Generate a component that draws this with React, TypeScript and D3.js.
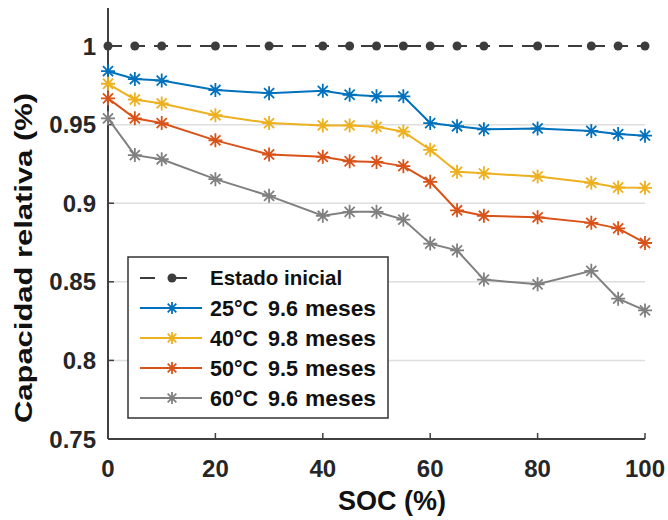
import React from 'react';
import * as d3 from 'd3';

// SOC en % (eje x)
const soc = [0, 5, 10, 20, 30, 40, 45, 50, 55, 60, 65, 70, 80, 90, 95, 100];

// capacidad relativa por temperatura
const estadoInicial = [1, 1, 1, 1, 1, 1, 1, 1, 1, 1, 1, 1, 1, 1, 1, 1];
const cap25 = [0.984, 0.979, 0.978, 0.972, 0.970, 0.9715, 0.969, 0.968, 0.968, 0.951, 0.949, 0.947, 0.9476, 0.946, 0.944, 0.943];
const cap40 = [0.976, 0.966, 0.9635, 0.956, 0.951, 0.9495, 0.9495, 0.9486, 0.9455, 0.934, 0.920, 0.919, 0.917, 0.913, 0.910, 0.9098];
const cap50 = [0.9667, 0.954, 0.951, 0.940, 0.931, 0.9295, 0.9267, 0.9263, 0.9236, 0.9136, 0.8955, 0.892, 0.891, 0.8875, 0.884, 0.8747];
const cap60 = [0.954, 0.9306, 0.928, 0.9153, 0.9047, 0.892, 0.8945, 0.8945, 0.8896, 0.8743, 0.870, 0.8514, 0.8484, 0.857, 0.8393, 0.8318];

const legendTemps = ['25°C', '40°C', '50°C', '60°C'];
const legendMonths = ['9.6', '9.8', '9.5', '9.6'];
const seriesColors = ['#0072BD', '#EDB120', '#D95319', '#808080'];

const xTicks = [0, 20, 40, 60, 80, 100];
const yTicks = [0.75, 0.8, 0.85, 0.9, 0.95, 1];
const yTickLabels = ['0.75', '0.8', '0.85', '0.9', '0.95', '1'];
const yGrid = [0.8, 0.85, 0.9, 0.95];

const FONT = 'Liberation Sans, Arial, sans-serif';
const AXIS = '#404040';

const asterisk = (r: number) => {
  const d = r * 0.72;
  return `M${-r},0H${r}M0,${-r}V${r}M${-d},${-d}L${d},${d}M${-d},${d}L${d},${-d}`;
};

export default function App() {
  const width = 668;
  const height = 520;

  const x = d3.scaleLinear().domain([0, 100]).range([108, 645]);
  const y = d3.scaleLinear().domain([0.75, 1.0242]).range([439, 8]);

  const line = d3.line<number>()
    .x((_, i) => x(soc[i]))
    .y(v => y(v));

  const series = [cap25, cap40, cap50, cap60];

  // legend box
  const lx = 128, ly = 257, lw = 260, lh = 161;
  const rowY = (i: number) => 278 + i * 30;

  return (
    <svg width={width} height={height} style={{ position: 'absolute', left: 0, top: 0, background: '#fff' }}
      fontFamily={FONT}>
      <rect width={width} height={height} fill="#fff" />

      {/* rejilla */}
      {yGrid.map(v => (
        <line key={v} x1={x(0)} x2={x(100)} y1={y(v)} y2={y(v)} stroke="#dedede" strokeWidth={1.5} />
      ))}

      {/* ejes */}
      <line x1={x(0)} x2={x(0)} y1={y.range()[1]} y2={y(0.75)} stroke={AXIS} strokeWidth={2} />
      <line x1={x(0)} x2={x(100)} y1={y(0.75)} y2={y(0.75)} stroke={AXIS} strokeWidth={2} />
      {xTicks.map(t => (
        <line key={t} x1={x(t)} x2={x(t)} y1={y(0.75)} y2={y(0.75) - 6} stroke={AXIS} strokeWidth={1.5} />
      ))}
      {yTicks.map(t => (
        <line key={t} x1={x(0)} x2={x(0) + 6} y1={y(t)} y2={y(t)} stroke={AXIS} strokeWidth={1.5} />
      ))}

      {/* etiquetas de ticks */}
      {xTicks.map(t => (
        <text key={t} x={x(t)} y={477} textAnchor="middle" fontSize={24} fontWeight="bold" fill="#262626">{t}</text>
      ))}
      {yTicks.map((t, i) => (
        <text key={t} x={96} y={y(t)} dy="0.36em" textAnchor="end" fontSize={24} fontWeight="bold" fill="#262626">{yTickLabels[i]}</text>
      ))}

      {/* titulos */}
      <text x={392} y={510} textAnchor="middle" fontSize={27} fontWeight="bold" fill="#111">SOC (%)</text>
      <text transform={`translate(32,258) rotate(-90)`} textAnchor="middle" fontSize={24} fontWeight="bold" fill="#111"
        textLength={330} lengthAdjust="spacingAndGlyphs">Capacidad relativa (%)</text>

      {/* estado inicial */}
      <path d={line(estadoInicial) || ''} fill="none" stroke="#3c3c3c" strokeWidth={2} strokeDasharray="14 9" />
      {estadoInicial.map((v, i) => (
        <circle key={i} cx={x(soc[i])} cy={y(v)} r={4.5} fill="#3c3c3c" />
      ))}

      {/* series */}
      {series.map((s, k) => (
        <g key={k}>
          <path d={line(s) || ''} fill="none" stroke={seriesColors[k]} strokeWidth={2} />
          {s.map((v, i) => (
            <path key={i} d={asterisk(7)} transform={`translate(${x(soc[i])},${y(v)})`}
              fill="none" stroke={seriesColors[k]} strokeWidth={1.8} />
          ))}
        </g>
      ))}

      {/* leyenda */}
      <rect x={lx} y={ly} width={lw} height={lh} fill="#fff" stroke="#333" strokeWidth={1.5} />
      <line x1={140} x2={202} y1={rowY(0)} y2={rowY(0)} stroke="#3c3c3c" strokeWidth={2} strokeDasharray="15 17" />
      <circle cx={172} cy={rowY(0)} r={4.5} fill="#3c3c3c" />
      <text x={210} y={rowY(0)} dy="0.36em" fontSize={20.5} fontWeight="bold" fill="#111">Estado inicial</text>
      {legendTemps.map((t, i) => (
        <g key={t + i}>
          <line x1={140} x2={202} y1={rowY(i + 1)} y2={rowY(i + 1)} stroke={seriesColors[i]} strokeWidth={2} />
          <path d={asterisk(6)} transform={`translate(172,${rowY(i + 1)})`} fill="none" stroke={seriesColors[i]} strokeWidth={1.8} />
          <text y={rowY(i + 1)} dy="0.36em" fontSize={21.5} fontWeight="bold" fill="#111">
            <tspan x={210}>{t}</tspan>
            <tspan x={268}>{legendMonths[i]}</tspan>
            <tspan x={305} textLength={71} lengthAdjust="spacingAndGlyphs">meses</tspan>
          </text>
        </g>
      ))}
    </svg>
  );
}
